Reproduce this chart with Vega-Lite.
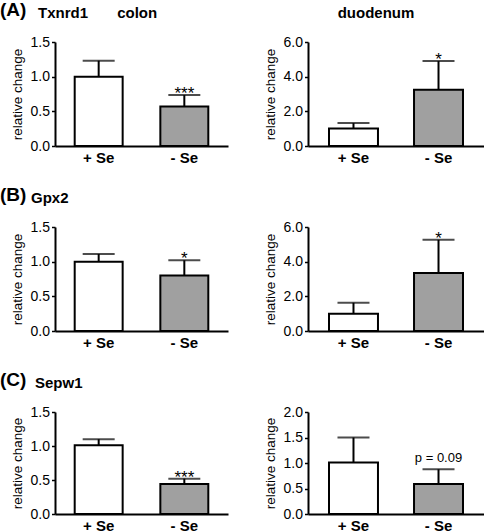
{
  "$schema": "https://vega.github.io/schema/vega-lite/v6.json",
  "padding": {"left": 0, "top": 1, "right": 0, "bottom": 0},
  "background": "white",
  "config": {
    "font": "Liberation Sans",
    "view": {"stroke": null},
    "axis": {"domainColor": "black", "domainWidth": 2, "tickColor": "black", "tickWidth": 1.5, "labelColor": "black", "titleColor": "black", "labelFont": "Liberation Sans", "titleFont": "Liberation Sans", "grid": false},
    "axisX": {"ticks": false, "labelFontSize": 15, "labelFontWeight": "bold", "labelAngle": 0, "title": null, "labelPadding": 4},
    "axisY": {"tickSize": 3.5, "labelFontSize": 14, "titleFontSize": 13.5, "titleFontWeight": "normal", "titlePadding": 6, "format": ".1f", "labelPadding": 2},
    "title": {"font": "Liberation Sans", "color": "black"},
    "concat": {"spacing": 35}
  },
  "datasets": {
    "bars": [
      {"row": "A", "tissue": "colon", "group": "+ Se", "value": 1.0, "upper": 1.23, "label": ""},
      {"row": "A", "tissue": "colon", "group": "- Se", "value": 0.57, "upper": 0.735, "label": "***"},
      {"row": "A", "tissue": "duodenum", "group": "+ Se", "value": 1.01, "upper": 1.32, "label": ""},
      {"row": "A", "tissue": "duodenum", "group": "- Se", "value": 3.25, "upper": 4.9, "label": "*"},
      {"row": "B", "tissue": "colon", "group": "+ Se", "value": 1.0, "upper": 1.11, "label": ""},
      {"row": "B", "tissue": "colon", "group": "- Se", "value": 0.8, "upper": 1.02, "label": "*"},
      {"row": "B", "tissue": "duodenum", "group": "+ Se", "value": 1.0, "upper": 1.63, "label": ""},
      {"row": "B", "tissue": "duodenum", "group": "- Se", "value": 3.35, "upper": 5.26, "label": "*"},
      {"row": "C", "tissue": "colon", "group": "+ Se", "value": 1.01, "upper": 1.1, "label": ""},
      {"row": "C", "tissue": "colon", "group": "- Se", "value": 0.44, "upper": 0.52, "label": "***"},
      {"row": "C", "tissue": "duodenum", "group": "+ Se", "value": 1.01, "upper": 1.5, "label": ""},
      {"row": "C", "tissue": "duodenum", "group": "- Se", "value": 0.59, "upper": 0.877, "label": "p = 0.09"}
    ]
  },
  "vconcat": [
    {
      "title": {"text": "(A)", "anchor": "start", "frame": "bounds", "fontSize": 19, "fontWeight": "bold", "offset": -14, "dx": -10},
      "hconcat": [
        {
          "width": 173, "height": 104,
          "data": {"name": "bars"},
          "title": {"text": "Txnrd1\u00a0\u00a0\u00a0\u00a0\u00a0\u00a0\u00a0colon", "anchor": "start", "frame": "group", "fontSize": 15, "fontWeight": "bold", "offset": 14, "dx": -17},
          "transform": [{"filter": "datum.row == 'A' && datum.tissue == 'colon'"}],
          "encoding": {
            "x": {"field": "group", "type": "nominal", "sort": ["+ Se", "- Se"], "scale": {"paddingInner": 0.44, "paddingOuter": 0.23}},
            "y": {"field": "value", "type": "quantitative", "title": "relative change", "scale": {"domain": [0, 1.5]}, "axis": {"values": [0, 0.5, 1, 1.5]}}
          },
          "layer": [
            {"mark": {"type": "bar", "stroke": "black", "strokeWidth": 2}, "encoding": {"fill": {"field": "group", "type": "nominal", "scale": {"domain": ["+ Se", "- Se"], "range": ["white", "#a0a0a0"]}, "legend": null}}},
            {"mark": {"type": "rule", "strokeWidth": 2, "color": "black"}, "encoding": {"y2": {"field": "upper"}}},
            {"mark": {"type": "tick", "thickness": 2, "size": 32, "color": "black"}, "encoding": {"y": {"field": "upper", "type": "quantitative", "title": "relative change"}}},
            {"transform": [{"filter": "datum.label != '' && datum.label[0] == '*'"}], "mark": {"type": "text", "fontSize": 17, "baseline": "alphabetic", "dy": 4, "color": "black"}, "encoding": {"y": {"field": "upper", "type": "quantitative", "title": "relative change"}, "text": {"field": "label"}}}
          ]
        },
        {
          "width": 176, "height": 104,
          "data": {"name": "bars"},
          "title": {"text": "duodenum", "anchor": "middle", "frame": "group", "fontSize": 15, "fontWeight": "bold", "offset": 14, "dx": -20},
          "transform": [{"filter": "datum.row == 'A' && datum.tissue == 'duodenum'"}],
          "encoding": {
            "x": {"field": "group", "type": "nominal", "sort": ["+ Se", "- Se"], "scale": {"paddingInner": 0.424, "paddingOuter": 0.247, "align": 0.5}},
            "y": {"field": "value", "type": "quantitative", "title": "relative change", "scale": {"domain": [0, 6]}, "axis": {"values": [0, 2, 4, 6]}}
          },
          "layer": [
            {"mark": {"type": "bar", "stroke": "black", "strokeWidth": 2}, "encoding": {"fill": {"field": "group", "type": "nominal", "scale": {"domain": ["+ Se", "- Se"], "range": ["white", "#a0a0a0"]}, "legend": null}}},
            {"mark": {"type": "rule", "strokeWidth": 2, "color": "black"}, "encoding": {"y2": {"field": "upper"}}},
            {"mark": {"type": "tick", "thickness": 2, "size": 32, "color": "black"}, "encoding": {"y": {"field": "upper", "type": "quantitative", "title": "relative change"}}},
            {"transform": [{"filter": "datum.label != '' && datum.label[0] == '*'"}], "mark": {"type": "text", "fontSize": 17, "baseline": "alphabetic", "dy": 4, "color": "black"}, "encoding": {"y": {"field": "upper", "type": "quantitative", "title": "relative change"}, "text": {"field": "label"}}}
          ]
        }
      ]
    },
    {
      "title": {"text": "(B)", "anchor": "start", "frame": "bounds", "fontSize": 19, "fontWeight": "bold", "offset": -14, "dx": -10},
      "hconcat": [
        {
          "width": 173, "height": 104,
          "data": {"name": "bars"},
          "title": {"text": "Gpx2", "anchor": "start", "frame": "group", "fontSize": 15, "fontWeight": "bold", "offset": 14, "dx": -24},
          "transform": [{"filter": "datum.row == 'B' && datum.tissue == 'colon'"}],
          "encoding": {
            "x": {"field": "group", "type": "nominal", "sort": ["+ Se", "- Se"], "scale": {"paddingInner": 0.44, "paddingOuter": 0.23}},
            "y": {"field": "value", "type": "quantitative", "title": "relative change", "scale": {"domain": [0, 1.5]}, "axis": {"values": [0, 0.5, 1, 1.5]}}
          },
          "layer": [
            {"mark": {"type": "bar", "stroke": "black", "strokeWidth": 2}, "encoding": {"fill": {"field": "group", "type": "nominal", "scale": {"domain": ["+ Se", "- Se"], "range": ["white", "#a0a0a0"]}, "legend": null}}},
            {"mark": {"type": "rule", "strokeWidth": 2, "color": "black"}, "encoding": {"y2": {"field": "upper"}}},
            {"mark": {"type": "tick", "thickness": 2, "size": 32, "color": "black"}, "encoding": {"y": {"field": "upper", "type": "quantitative", "title": "relative change"}}},
            {"transform": [{"filter": "datum.label != '' && datum.label[0] == '*'"}], "mark": {"type": "text", "fontSize": 17, "baseline": "alphabetic", "dy": 4, "color": "black"}, "encoding": {"y": {"field": "upper", "type": "quantitative", "title": "relative change"}, "text": {"field": "label"}}}
          ]
        },
        {
          "width": 176, "height": 104,
          "data": {"name": "bars"},
          "title": {"text": "\u00a0", "anchor": "middle", "frame": "group", "fontSize": 15, "fontWeight": "bold", "offset": 14},
          "transform": [{"filter": "datum.row == 'B' && datum.tissue == 'duodenum'"}],
          "encoding": {
            "x": {"field": "group", "type": "nominal", "sort": ["+ Se", "- Se"], "scale": {"paddingInner": 0.424, "paddingOuter": 0.247, "align": 0.5}},
            "y": {"field": "value", "type": "quantitative", "title": "relative change", "scale": {"domain": [0, 6]}, "axis": {"values": [0, 2, 4, 6]}}
          },
          "layer": [
            {"mark": {"type": "bar", "stroke": "black", "strokeWidth": 2}, "encoding": {"fill": {"field": "group", "type": "nominal", "scale": {"domain": ["+ Se", "- Se"], "range": ["white", "#a0a0a0"]}, "legend": null}}},
            {"mark": {"type": "rule", "strokeWidth": 2, "color": "black"}, "encoding": {"y2": {"field": "upper"}}},
            {"mark": {"type": "tick", "thickness": 2, "size": 32, "color": "black"}, "encoding": {"y": {"field": "upper", "type": "quantitative", "title": "relative change"}}},
            {"transform": [{"filter": "datum.label != '' && datum.label[0] == '*'"}], "mark": {"type": "text", "fontSize": 17, "baseline": "alphabetic", "dy": 4, "color": "black"}, "encoding": {"y": {"field": "upper", "type": "quantitative", "title": "relative change"}, "text": {"field": "label"}}}
          ]
        }
      ]
    },
    {
      "title": {"text": "(C)", "anchor": "start", "frame": "bounds", "fontSize": 19, "fontWeight": "bold", "offset": -14, "dx": -10},
      "hconcat": [
        {
          "width": 173, "height": 102,
          "data": {"name": "bars"},
          "title": {"text": "Sepw1", "anchor": "start", "frame": "group", "fontSize": 15, "fontWeight": "bold", "offset": 14, "dx": -20},
          "transform": [{"filter": "datum.row == 'C' && datum.tissue == 'colon'"}],
          "encoding": {
            "x": {"field": "group", "type": "nominal", "sort": ["+ Se", "- Se"], "scale": {"paddingInner": 0.44, "paddingOuter": 0.23}},
            "y": {"field": "value", "type": "quantitative", "title": "relative change", "scale": {"domain": [0, 1.5]}, "axis": {"values": [0, 0.5, 1, 1.5]}}
          },
          "layer": [
            {"mark": {"type": "bar", "stroke": "black", "strokeWidth": 2}, "encoding": {"fill": {"field": "group", "type": "nominal", "scale": {"domain": ["+ Se", "- Se"], "range": ["white", "#a0a0a0"]}, "legend": null}}},
            {"mark": {"type": "rule", "strokeWidth": 2, "color": "black"}, "encoding": {"y2": {"field": "upper"}}},
            {"mark": {"type": "tick", "thickness": 2, "size": 32, "color": "black"}, "encoding": {"y": {"field": "upper", "type": "quantitative", "title": "relative change"}}},
            {"transform": [{"filter": "datum.label != '' && datum.label[0] == '*'"}], "mark": {"type": "text", "fontSize": 17, "baseline": "alphabetic", "dy": 4, "color": "black"}, "encoding": {"y": {"field": "upper", "type": "quantitative", "title": "relative change"}, "text": {"field": "label"}}}
          ]
        },
        {
          "width": 176, "height": 102,
          "data": {"name": "bars"},
          "title": {"text": "\u00a0", "anchor": "middle", "frame": "group", "fontSize": 15, "fontWeight": "bold", "offset": 14},
          "transform": [{"filter": "datum.row == 'C' && datum.tissue == 'duodenum'"}],
          "encoding": {
            "x": {"field": "group", "type": "nominal", "sort": ["+ Se", "- Se"], "scale": {"paddingInner": 0.424, "paddingOuter": 0.247, "align": 0.5}},
            "y": {"field": "value", "type": "quantitative", "title": "relative change", "scale": {"domain": [0, 2]}, "axis": {"values": [0, 0.5, 1, 1.5, 2]}}
          },
          "layer": [
            {"mark": {"type": "bar", "stroke": "black", "strokeWidth": 2}, "encoding": {"fill": {"field": "group", "type": "nominal", "scale": {"domain": ["+ Se", "- Se"], "range": ["white", "#a0a0a0"]}, "legend": null}}},
            {"mark": {"type": "rule", "strokeWidth": 2, "color": "black"}, "encoding": {"y2": {"field": "upper"}}},
            {"mark": {"type": "tick", "thickness": 2, "size": 32, "color": "black"}, "encoding": {"y": {"field": "upper", "type": "quantitative", "title": "relative change"}}},
            {"transform": [{"filter": "datum.label != '' && datum.label[0] == 'p'"}], "mark": {"type": "text", "fontSize": 13, "baseline": "alphabetic", "dy": -7.5, "color": "black"}, "encoding": {"y": {"field": "upper", "type": "quantitative", "title": "relative change"}, "text": {"field": "label"}}}
          ]
        }
      ]
    }
  ],
  "spacing": 21
}
